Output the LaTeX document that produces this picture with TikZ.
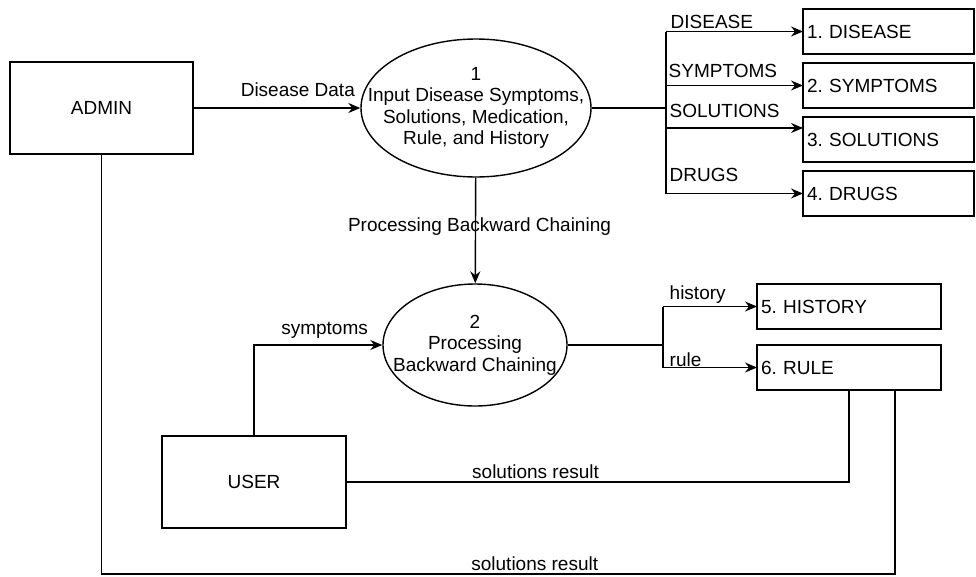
\documentclass[tikz,border=0pt]{standalone}
\usepackage{fontspec}
\setmainfont{Liberation Sans}
\frenchspacing
\usetikzlibrary{arrows.meta,positioning,shapes.geometric,calc}

\begin{document}
\begin{tikzpicture}[
    x=1pt, y=-1pt,
    font=\fontsize{19}{21.5}\selectfont,
    entity/.style={draw, line width=1.4pt, minimum width=183pt, minimum height=92pt, inner sep=0pt},
    proc/.style={draw, ellipse, line width=1.4pt, inner sep=0pt},
    store/.style={draw, line width=1.4pt, minimum height=45pt, inner xsep=4pt, inner ysep=0pt, align=left, outer sep=0pt},
    flow/.style={line width=1.4pt},
    arrow/.style={flow, -{Stealth[length=12pt, width=10pt, inset=4pt]}},
    lbl/.style={inner sep=0pt, anchor=base},
    brlbl/.style={inner sep=0pt, anchor=base west, pos=0}
]

\useasboundingbox (0,0) rectangle (976,576);

% ===== ENTITIES =====
\node[entity] (admin) at (101.5,108) {ADMIN};
\node[entity, minimum width=184pt] (user) at (254,482) {USER};

% ===== PROCESSES =====
\node[proc, minimum width=230pt, minimum height=138pt,
      label={[align=center]center:1\\Input Disease Symptoms,\\Solutions, Medication,\\Rule, and History}] (proc1) at (476,108) {};
\node[proc, minimum width=184pt, minimum height=122pt,
      label={[align=center]center:2\\Processing\\Backward Chaining}] (proc2) at (475,345) {};

% ===== DATA STORES =====
\node[store, text width=163pt] (ds1) at (888.5,31.5) {1. DISEASE};
\node[store, text width=163pt, below=9pt of ds1] (ds2) {2. SYMPTOMS};
\node[store, text width=163pt, below=9pt of ds2] (ds3) {3. SOLUTIONS};
\node[store, text width=163pt, below=9pt of ds3] (ds4) {4. DRUGS};
\node[store, text width=176pt] (ds5) at (849,306.5) {5. HISTORY};
\node[store, text width=176pt, below=16pt of ds5] (ds6) {6. RULE};

\coordinate (j1) at (666,108);
\coordinate (j2) at (663,345);
\coordinate (in3) at ($(ds3.north west)!0.244!(ds3.south west)$);
\coordinate (r6) at ($(ds6.south)!0.5!(ds6.south east)$);
\coordinate (sink) at (500,574);

% ===== FLOWS =====
\draw[arrow] (admin) -- node[lbl, pos=0.625, yshift=11.5pt] {Disease Data} (proc1);

\draw[flow] (proc1.east) -- (j1);
\draw[flow] (j1 |- ds1.west) -- (j1 |- ds4.west);
\draw[arrow] (j1 |- ds1.west) -- node[brlbl, xshift=4pt, yshift=3.5pt] {DISEASE} (ds1.west);
\draw[arrow] (j1 |- ds2.west) -- node[brlbl, xshift=2pt, yshift=8.5pt] {SYMPTOMS} (ds2.west);
\draw[arrow] (j1 |- in3) -- node[brlbl, xshift=3pt, yshift=10.5pt] {SOLUTIONS} (in3);
\draw[arrow] (j1 |- ds4.west) -- node[brlbl, xshift=3pt, yshift=12.5pt] {DRUGS} (ds4.west);

\draw[arrow] (proc1) -- node[lbl, pos=0.51, xshift=4pt] {Processing Backward Chaining} (proc2);

\draw[arrow] (user.north) |- node[lbl, pos=0.775, yshift=11pt] {symptoms} (proc2.west);

\draw[flow] (proc2.east) -- (j2);
\draw[flow] (j2 |- ds5.west) -- (j2 |- ds6.west);
\draw[arrow] (j2 |- ds5.west) -- node[brlbl, xshift=6pt, yshift=7.5pt] {history} (ds5.west);
\draw[arrow] (j2 |- ds6.west) -- node[brlbl, xshift=6pt, yshift=1.5pt] {rule} (ds6.west);

\draw[flow] (user.east) -- node[lbl, pos=0.376, yshift=3.5pt] {solutions result} (user.east -| ds6.south) -- (ds6.south);
\draw[flow] (admin.south) -- (admin.south |- sink) -- node[lbl, pos=0.546, yshift=3.5pt] {solutions result} (sink -| r6) -- (r6);

\end{tikzpicture}
\end{document}
